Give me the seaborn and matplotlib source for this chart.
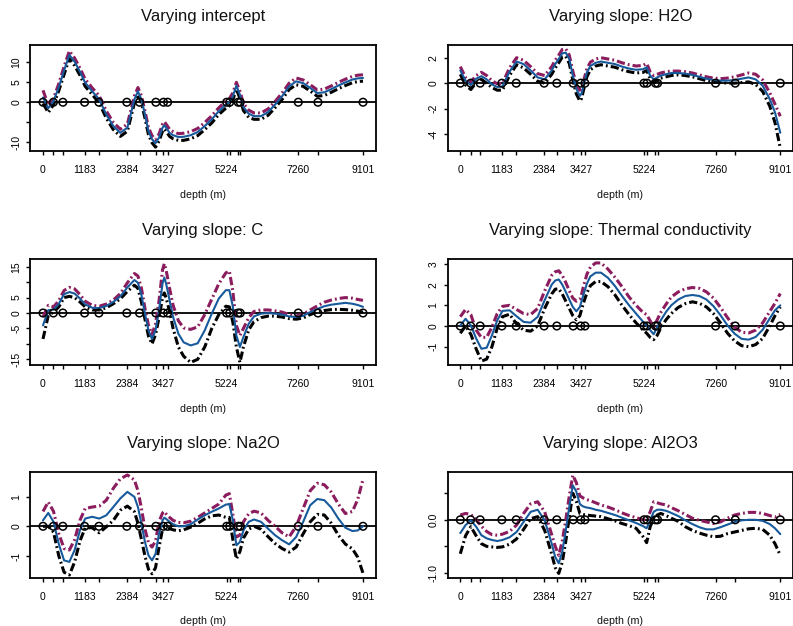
import matplotlib
matplotlib.use("Agg")
import matplotlib.pyplot as plt
import seaborn as sns

# ---------------------------------------------------------------- data
depth = [0, 150, 300, 450, 600, 750, 900, 1050, 1200, 1400, 1600, 1800, 2000,
         2200, 2400, 2600, 2700, 2800, 2900, 3000, 3100, 3200, 3300, 3400,
         3450, 3500, 3600, 3700, 3850, 4000, 4200, 4400, 4600, 4800, 5000,
         5200, 5300, 5400, 5500, 5600, 5700, 5850, 6000, 6200, 6400, 6600,
         6800, 7000, 7200, 7400, 7600, 7800, 8000, 8200, 8400, 8600, 8800,
         8950, 9101]

sample_depth = [0, 295, 565, 1183, 1590, 2384, 2745, 3210, 3427, 3545,
                5224, 5310, 5550, 5610, 7260, 7820, 9101]
labelled_depth = [0, 1183, 2384, 3427, 5224, 7260, 9101]

intercept_mid = [1.2, -1.5, 0.3, 3.8, 8.0, 11.9, 10.2, 7.7, 4.9, 2.75, 0.7, -3.1, -6.0,
                 -7.7, -6.4, 0.7, 2.75, 0.7, -3.1, -7.3, -9.3, -10.3, -8.9, -6.4,
                 -5.8, -6.4, -7.7, -8.3, -8.75, -8.7, -8.3, -7.5, -6.0, -4.3, -2.25,
                 -0.6, 0.0, 1.5, 4.2, 1.9, -1.2, -2.9, -3.5, -3.5, -2.5, -0.6,
                 1.5, 4.0, 5.25, 4.8, 3.6, 2.3, 2.5, 3.3, 4.2, 5.0, 5.7,
                 6.0, 6.1]
intercept_upper = [3.0, -0.7, 1.0, 4.7, 9.0, 12.9, 11.1, 8.6, 5.8, 3.6, 1.6, -2.2, -5.1,
                   -6.8, -5.5, 1.6, 3.7, 1.6, -2.2, -6.4, -8.4, -9.4, -8.0, -5.5,
                   -4.9, -5.5, -6.8, -7.4, -7.9, -7.8, -7.4, -6.6, -5.1, -3.4, -1.4,
                   0.3, 0.9, 2.4, 5.0, 2.8, -0.3, -2.0, -2.7, -2.7, -1.7, 0.2,
                   2.3, 4.8, 6.1, 5.6, 4.4, 3.1, 3.3, 4.1, 5.0, 5.8, 6.5,
                   6.8, 6.9]
intercept_lower = [-0.3, -2.6, -0.6, 2.9, 7.0, 11.0, 9.2, 6.8, 4.0, 1.9, -0.2, -4.0, -6.9,
                   -8.6, -7.3, -0.2, 1.9, -0.2, -4.0, -8.2, -10.2, -11.3, -9.8, -7.3,
                   -6.7, -7.3, -8.6, -9.2, -9.6, -9.6, -9.2, -8.4, -6.9, -5.2, -3.1,
                   -1.5, -0.9, 0.6, 3.3, 1.0, -2.1, -3.8, -4.3, -4.3, -3.3, -1.4,
                   0.7, 3.2, 4.4, 4.0, 2.8, 1.5, 1.7, 2.5, 3.4, 4.2, 4.9,
                   5.2, 5.3]

h2o_mid = [1.0, 0.2, -0.15, 0.35, 0.55, 0.3, -0.1, -0.3, -0.25, 0.9, 1.7, 1.5, 1.0,
           0.45, 0.3, 1.0, 1.5, 1.9, 2.35, 2.4, 1.9, 0.6, -0.45, -1.0,
           -0.8, -0.25, 0.85, 1.35, 1.6, 1.7, 1.6, 1.5, 1.3, 1.15, 1.05,
           1.1, 1.25, 0.6, 0.3, 0.45, 0.6, 0.7, 0.8, 0.8, 0.75, 0.65,
           0.5, 0.35, 0.25, 0.2, 0.2, 0.25, 0.35, 0.45, 0.3, -0.2, -1.25,
           -2.3, -3.9]
h2o_upper = [1.3, 0.45, 0.1, 0.6, 0.85, 0.6, 0.2, -0.05, 0.0, 1.2, 2.0, 1.8, 1.3,
             0.75, 0.6, 1.3, 1.8, 2.2, 2.65, 2.7, 2.2, 0.95, -0.1, -0.55,
             -0.4, 0.1, 1.15, 1.65, 1.9, 2.0, 1.9, 1.8, 1.6, 1.45, 1.35,
             1.4, 1.55, 0.9, 0.6, 0.7, 0.8, 0.9, 0.95, 0.95, 0.9, 0.8,
             0.65, 0.5, 0.4, 0.35, 0.4, 0.5, 0.65, 0.8, 0.7, 0.25, -0.75,
             -1.65, -2.6]
h2o_lower = [0.7, -0.15, -0.5, 0.05, 0.3, 0.0, -0.35, -0.55, -0.55, 0.6, 1.45, 1.2, 0.7,
             0.15, 0.0, 0.7, 1.2, 1.6, 2.05, 2.1, 1.55, 0.25, -0.85, -1.4,
             -1.2, -0.6, 0.5, 1.05, 1.35, 1.45, 1.35, 1.25, 1.05, 0.9, 0.8,
             0.85, 1.0, 0.35, 0.05, 0.2, 0.4, 0.5, 0.6, 0.65, 0.6, 0.5,
             0.35, 0.2, 0.1, 0.05, 0.0, 0.0, 0.05, 0.1, -0.1, -0.65, -1.8,
             -3.1, -5.1]

c_mid = [-4.0, 0.9, 1.1, 3.0, 6.1, 6.8, 6.3, 4.7, 2.8, 1.7, 1.6, 2.3, 3.6,
         5.4, 8.3, 10.7, 9.8, 5.8, -0.2, -5.6, -8.4, -5.6, 0.9, 9.6,
         11.5, 9.6, 4.1, -1.3, -6.7, -9.5, -10.5, -9.8, -5.6, -0.2, 4.7,
         7.4, 7.4, 2.0, -7.3, -11.0, -7.8, -3.5, -1.1, -0.2, 0.0, -0.2,
         -0.5, -1.1, -1.3, -0.9, 0.3, 1.3, 2.2, 2.7, 3.0, 3.3, 3.0,
         2.6, 2.0]
c_upper = [-1.3, 2.5, 2.0, 4.0, 7.3, 8.3, 7.8, 6.0, 3.8, 2.5, 2.2, 2.9, 4.2,
           6.3, 9.8, 12.8, 12.0, 8.0, 1.5, -4.0, -7.0, -3.5, 4.0, 14.0,
           16.0, 14.0, 8.0, 2.5, -2.5, -4.8, -5.3, -4.5, -0.5, 4.5, 9.5,
           13.0, 13.6, 7.0, -4.0, -7.3, -5.0, -1.5, 0.5, 1.0, 1.0, 0.7,
           0.3, -0.5, -1.0, -0.3, 1.0, 2.3, 3.5, 4.2, 4.7, 5.0, 4.8,
           4.4, 4.1]
c_lower = [-8.4, -0.8, 0.3, 2.0, 5.0, 5.4, 5.0, 3.6, 2.0, 1.0, 1.0, 1.7, 3.0,
           4.6, 7.0, 9.0, 8.0, 3.5, -2.0, -7.5, -10.0, -7.0, -1.5, 5.0,
           6.5, 5.0, 0.5, -5.0, -11.0, -14.0, -16.0, -15.0, -11.0, -5.0, -0.5,
           2.2, 2.0, -3.0, -11.0, -16.0, -11.0, -5.5, -2.8, -1.5, -1.0, -1.0,
           -1.3, -1.8, -2.0, -1.6, -0.5, 0.3, 0.8, 1.1, 1.2, 1.1, 0.9,
           0.6, 0.3]

thermal_mid = [0.03, 0.35, 0.03, -0.6, -1.1, -1.05, -0.45, 0.27, 0.73, 0.76, 0.47, 0.2, 0.16,
               0.44, 1.25, 2.0, 2.2, 2.25, 2.0, 1.65, 1.28, 0.92, 0.71, 0.92,
               1.2, 1.5, 2.05, 2.4, 2.58, 2.58, 2.33, 1.93, 1.45, 1.0, 0.6,
               0.2, 0.03, -0.2, -0.4, -0.05, 0.27, 0.68, 1.0, 1.28, 1.45, 1.5,
               1.45, 1.28, 0.96, 0.52, 0.03, -0.37, -0.62, -0.66, -0.53, -0.18, 0.36,
               0.76, 1.0]
thermal_upper = [0.45, 0.8, 0.55, -0.2, -0.55, -0.55, -0.05, 0.6, 0.95, 1.0, 0.8, 0.6, 0.55,
                 0.85, 1.7, 2.45, 2.62, 2.67, 2.45, 2.1, 1.7, 1.35, 1.2, 1.3,
                 1.55, 1.9, 2.5, 2.85, 3.05, 3.05, 2.75, 2.35, 1.9, 1.4, 1.0,
                 0.65, 0.55, 0.25, -0.05, 0.3, 0.65, 1.05, 1.4, 1.65, 1.8, 1.86,
                 1.82, 1.65, 1.35, 0.9, 0.4, -0.05, -0.3, -0.34, -0.2, 0.15, 0.7,
                 1.1, 1.57]
thermal_lower = [-0.35, 0.0, -0.4, -1.1, -1.7, -1.6, -1.0, -0.1, 0.45, 0.57, 0.1, -0.2, -0.25,
                 0.0, 0.85, 1.55, 1.78, 1.8, 1.55, 1.2, 0.85, 0.5, 0.3, 0.5,
                 0.8, 1.1, 1.6, 1.95, 2.15, 2.15, 1.9, 1.5, 1.0, 0.55, 0.15,
                 -0.2, -0.35, -0.55, -0.66, -0.45, -0.1, 0.3, 0.6, 0.9, 1.08, 1.17,
                 1.1, 0.92, 0.6, 0.15, -0.35, -0.72, -0.95, -1.0, -0.9, -0.6, 0.0,
                 0.5, 0.92]

na2o_mid = [0.2, 0.45, 0.15, -0.6, -1.15, -1.2, -0.8, -0.14, 0.26, 0.32, 0.26, 0.37, 0.65,
            0.94, 1.16, 0.99, 0.65, 0.09, -0.53, -0.98, -1.15, -0.93, -0.25, 0.2,
            0.29, 0.25, 0.15, 0.07, 0.0, 0.0, 0.07, 0.23, 0.37, 0.49, 0.6,
            0.73, 0.75, 0.2, -0.64, -0.53, -0.14, 0.15, 0.23, 0.15, -0.08, -0.3,
            -0.47, -0.61, -0.36, 0.15, 0.71, 0.92, 0.88, 0.63, 0.26, -0.05, -0.16,
            -0.14, 0.0]
na2o_upper = [0.5, 0.82, 0.5, -0.25, -0.75, -0.8, -0.45, 0.2, 0.6, 0.65, 0.68, 0.88, 1.28,
              1.6, 1.73, 1.56, 1.2, 0.6, -0.1, -0.55, -0.7, -0.5, 0.15, 0.45,
              0.5, 0.42, 0.3, 0.2, 0.13, 0.12, 0.17, 0.3, 0.45, 0.6, 0.75,
              1.05, 1.1, 0.4, -0.36, -0.3, 0.15, 0.42, 0.51, 0.45, 0.2, 0.0,
              -0.22, -0.36, 0.0, 0.6, 1.2, 1.45, 1.4, 1.15, 0.75, 0.43, 0.5,
              0.9, 1.58]
na2o_lower = [0.0, 0.0, -0.2, -1.0, -1.55, -1.64, -1.2, -0.5, -0.05, -0.05, -0.22, -0.02, 0.2,
              0.54, 0.68, 0.49, 0.1, -0.45, -1.0, -1.45, -1.6, -1.4, -0.7, -0.1,
              -0.05, -0.05, -0.08, -0.12, -0.15, -0.12, -0.03, 0.1, 0.25, 0.35, 0.38,
              0.3, 0.3, -0.45, -1.1, -0.85, -0.4, -0.1, 0.0, -0.1, -0.35, -0.58,
              -0.75, -0.87, -0.7, -0.25, 0.15, 0.4, 0.38, 0.1, -0.3, -0.6, -0.76,
              -1.04, -1.58]

al2o3_mid = [-0.25, -0.1, -0.01, -0.13, -0.29, -0.35, -0.38, -0.4, -0.38, -0.33, -0.23, -0.04, 0.15,
             0.19, -0.01, -0.45, -0.7, -0.82, -0.6, -0.2, 0.25, 0.65, 0.53, 0.3,
             0.27, 0.25, 0.23, 0.22, 0.19, 0.17, 0.13, 0.09, 0.04, -0.01, -0.06,
             -0.12, -0.16, -0.01, 0.15, 0.19, 0.19, 0.17, 0.13, 0.07, -0.01, -0.08,
             -0.14, -0.18, -0.18, -0.14, -0.09, -0.04, -0.01, 0.0, 0.0, -0.02, -0.08,
             -0.16, -0.27]
al2o3_upper = [0.09, 0.12, 0.1, 0.0, -0.12, -0.22, -0.28, -0.29, -0.27, -0.22, -0.1, 0.12, 0.3,
               0.34, 0.15, -0.28, -0.5, -0.67, -0.4, 0.0, 0.45, 0.84, 0.7, 0.45,
               0.43, 0.41, 0.38, 0.36, 0.32, 0.28, 0.24, 0.19, 0.13, 0.08, 0.04,
               0.0, 0.0, 0.15, 0.34, 0.32, 0.3, 0.28, 0.23, 0.17, 0.1, 0.03,
               -0.01, -0.04, -0.07, -0.04, 0.03, 0.09, 0.12, 0.14, 0.14, 0.12, 0.08,
               0.05, 0.1]
al2o3_lower = [-0.64, -0.3, -0.13, -0.3, -0.45, -0.5, -0.51, -0.52, -0.51, -0.46, -0.36, -0.18, 0.02,
               0.06, -0.2, -0.65, -0.9, -1.01, -0.8, -0.4, 0.05, 0.5, 0.35, 0.12,
               0.11, 0.1, 0.09, 0.08, 0.07, 0.06, 0.02, -0.02, -0.07, -0.11, -0.16,
               -0.32, -0.43, -0.13, 0.02, 0.09, 0.12, 0.08, 0.03, -0.03, -0.13, -0.2,
               -0.25, -0.29, -0.32, -0.31, -0.26, -0.23, -0.2, -0.17, -0.16, -0.18, -0.29,
               -0.45, -0.67]

panels = [
    dict(title="Varying intercept", mid=intercept_mid, upper=intercept_upper,
         lower=intercept_lower, ylim=(-12.4, 14.4),
         yticks=[-10, -5, 0, 5, 10], ylabels=["-10", "", "0", "5", "10"]),
    dict(title="Varying slope: H2O", mid=h2o_mid, upper=h2o_upper,
         lower=h2o_lower, ylim=(-5.37, 3.0),
         yticks=[-4, -2, 0, 2], ylabels=["-4", "-2", "0", "2"]),
    dict(title="Varying slope: C", mid=c_mid, upper=c_upper,
         lower=c_lower, ylim=(-17.0, 17.5),
         yticks=[-15, -10, -5, 0, 5, 10, 15],
         ylabels=["-15", "", "-5", "0", "5", "", "15"]),
    dict(title="Varying slope: Thermal conductivity", mid=thermal_mid,
         upper=thermal_upper, lower=thermal_lower, ylim=(-1.91, 3.24),
         yticks=[-1, 0, 1, 2, 3], ylabels=["-1", "0", "1", "2", "3"]),
    dict(title="Varying slope: Na2O", mid=na2o_mid, upper=na2o_upper,
         lower=na2o_lower, ylim=(-1.75, 1.84),
         yticks=[-1, 0, 1], ylabels=["-1", "0", "1"]),
    dict(title="Varying slope: Al2O3", mid=al2o3_mid, upper=al2o3_upper,
         lower=al2o3_lower, ylim=(-1.10, 0.906),
         yticks=[-1.0, -0.5, 0.0, 0.5], ylabels=["-1.0", "", "0.0", ""]),
]

# ---------------------------------------------------------------- style
sns.set_theme(style="ticks")
plt.rcParams["font.family"] = ["Liberation Sans", "DejaVu Sans"]
plt.rcParams["axes.edgecolor"] = "black"
plt.rcParams["axes.linewidth"] = 1.3

MID_COLOR = "#175A9C"
UP_COLOR = "#8B1C5E"
LOW_COLOR = "black"
DASHDOT = (0, (2.7, 1.0, 0.6, 1.0))

W, H = 793, 626
fig = plt.figure(figsize=(W / 100, H / 100), dpi=100)
fig.patch.set_facecolor("white")

col_left = [30.2, 447.5]
row_top = [45.0, 259.0, 471.7]
ax_w, ax_h = 345.6, 106.5

for i, p in enumerate(panels):
    r, c = divmod(i, 2)
    left, top = col_left[c], row_top[r]
    ax = fig.add_axes([left / W, 1 - (top + ax_h) / H, ax_w / W, ax_h / H])
    ax.set_facecolor("white")

    ax.axhline(0, color="black", lw=1.3, zorder=1)
    sns.lineplot(x=depth, y=p["lower"], ax=ax, color=LOW_COLOR, lw=2.2,
                 linestyle=DASHDOT, sort=False, errorbar=None, zorder=2)
    sns.lineplot(x=depth, y=p["upper"], ax=ax, color=UP_COLOR, lw=2.2,
                 linestyle=DASHDOT, sort=False, errorbar=None, zorder=3)
    sns.lineplot(x=depth, y=p["mid"], ax=ax, color=MID_COLOR, lw=1.5,
                 sort=False, errorbar=None, zorder=4)
    sns.scatterplot(x=sample_depth, y=[0] * len(sample_depth), ax=ax,
                    marker="o", s=30, facecolor="none", edgecolor="black",
                    linewidth=1.1, zorder=5)

    ax.set_xlim(-364, 9465)
    ax.set_ylim(*p["ylim"])
    ax.set_xticks(sample_depth)
    ax.set_xticklabels([str(d) if d in labelled_depth else "" for d in sample_depth])
    ax.set_yticks(p["yticks"])
    ax.set_yticklabels(p["ylabels"])
    ax.set_xlabel("")
    ax.set_ylabel("")
    ax.tick_params(axis="x", direction="out", length=3, width=1, pad=7,
                   labelsize=7.5, colors="black")
    ax.tick_params(axis="y", direction="out", length=3, width=1, pad=3.5,
                   labelsize=7.5, colors="black")
    for lbl in ax.get_yticklabels():
        lbl.set_rotation(90)
        lbl.set_va("center")
    for s in ax.spines.values():
        s.set_visible(True)
        s.set_color("black")

    cx = (left + ax_w / 2) / W
    fig.text(cx, 1 - (top - 28) / H, p["title"], ha="center", va="center",
             fontsize=12, color="#111111")
    fig.text(cx, 1 - (top + ax_h + 43) / H, "depth (m)", ha="center",
             va="center", fontsize=7.7, color="#111111")

fig.savefig("out.png", dpi=100, facecolor="white")
